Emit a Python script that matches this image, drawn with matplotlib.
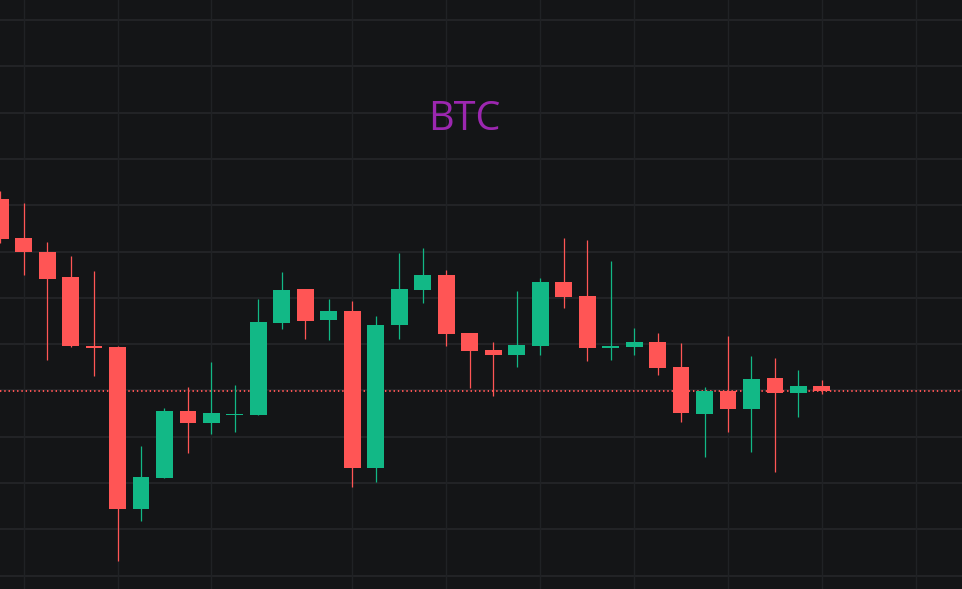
"""
BTC candlestick chart, dark theme
"""

import numpy as np
import matplotlib.pyplot as plt

# OHLC (one candle per bar)
opens = [29068, 28647, 28496, 28226, 27481, 27470, 25720, 26055, 26779, 26649,
         26740, 26735, 27729, 28096, 27761, 27859, 26163, 27707, 28085, 28247,
         27621, 27437, 27383, 27481, 28172, 28021, 27459, 27470, 27524, 27254,
         26746, 26995, 26800, 27135, 26973, 27049]
highs = [29155, 29025, 28604, 28453, 28291, 27481, 26401, 26811, 27038, 27308,
         27059, 27988, 28280, 28096, 27988, 27967, 27805, 28485, 28539, 28301,
         27621, 27524, 28075, 28215, 28647, 28625, 28399, 27675, 27621, 27513,
         27038, 27589, 27373, 27351, 27221, 27113]
lows = [28596, 28247, 27329, 27473, 27157, 25162, 25594, 26055, 26325, 26530,
        26552, 26735, 27664, 27556, 27545, 25958, 26012, 27556, 27945, 27481,
        27027, 26941, 27254, 27383, 27891, 27319, 27329, 27383, 27167, 26660,
        26282, 26552, 26336, 26120, 26714, 26962]
closes = [28636, 28490, 28204, 27484, 27462, 25720, 26066, 26779, 26649, 26757,
          26745, 27740, 28085, 27751, 27859, 26163, 27707, 28096, 28247, 27610,
          27427, 27383, 27491, 28172, 28010, 27459, 27481, 27524, 27243, 26757,
          26995, 26800, 27124, 26973, 27049, 26990]

# bar positions where the time scale puts its grid lines
time_grid = [1, 5, 9, 15, 19, 23, 27, 31, 35, 39]
price_grid = list(range(25000, 31001, 500))

UP = '#12b886'
DOWN = '#ff5555'
BG = '#141517'

fig = plt.figure(figsize=(9.621, 5.891), dpi=100, facecolor=BG)
ax = fig.add_axes([0, 0, 1, 1])
ax.set_facecolor(BG)

ax.set_xlim(-0.005, 40.97)
ax.set_ylim(24856, 31217)

# grid
for y in price_grid:
    ax.axhline(y, color='#25272a', lw=1.2, zorder=0)
for x in time_grid:
    ax.axvline(x, color='#202225', lw=1.0, zorder=0)

# last price line
ax.axhline(closes[-1], color=DOWN, lw=1.4, linestyle=(0, (0.7, 1.5)), zorder=1)

x = np.arange(len(opens))
o = np.array(opens)
c = np.array(closes)
colors = [UP if cc >= oo else DOWN for oo, cc in zip(o, c)]
bottoms = np.minimum(o, c)
heights = np.maximum(np.abs(c - o), 11)

ax.vlines(x, lows, highs, colors=colors, lw=0.9, zorder=2)
ax.bar(x, heights, bottom=bottoms, width=0.72, color=colors, zorder=3, linewidth=0)

# watermark
fig.text(464.5 / 962, 1 - 129.5 / 589, 'BTC', color='#9c27b0', fontsize=28.5,
         family='Open Sans', ha='center', va='baseline')

ax.set_xticks([])
ax.set_yticks([])
for s in ax.spines.values():
    s.set_visible(False)

fig.savefig('out.png', dpi=100, facecolor=BG)
